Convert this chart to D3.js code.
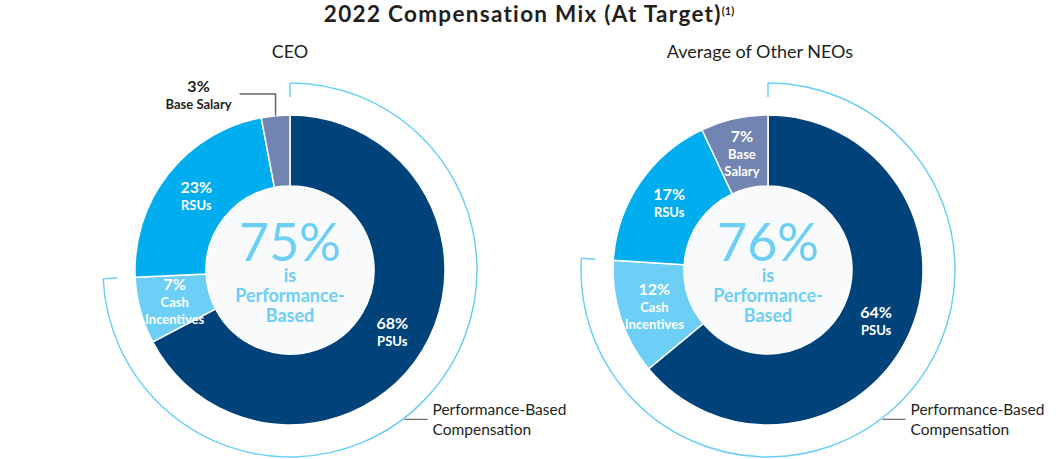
<!DOCTYPE html>
<html>
<head>
<meta charset="utf-8">
<script src="https://cdn.jsdelivr.net/npm/d3@7"></script>
<style>
  body { margin: 0; background: #fff; }
  svg text { font-family: Lato, "Open Sans", sans-serif; }
</style>
</head>
<body>
<div id="chart"></div>
<script>
// data
const groups = ["CEO", "Average of Other NEOs"];
const components = ["PSUs", "Cash Incentives", "RSUs", "Base Salary"];
const labelLines = [["PSUs"], ["Cash", "Incentives"], ["RSUs"], ["Base", "Salary"]];
const ceoValues = [68, 7, 23, 3];
const neoValues = [64, 12, 17, 7];
const perfBased = [75, 76];
const colors = ["#00437b", "#6dcff6", "#00adee", "#7284b1"];

const width = 1058, height = 459;
const outerR = 155, innerR = 84, bracketR = 187;
const accent = "#6dcff6";

const svg = d3.select("#chart").append("svg")
    .attr("width", width)
    .attr("height", height);

// title
const title = svg.append("text")
    .attr("x", width / 2)
    .attr("y", 22)
    .attr("text-anchor", "middle")
    .attr("font-size", "22.5px")
    .attr("font-weight", "bold")
    .attr("letter-spacing", "1.3px")
    .attr("fill", "#231f20");
title.append("tspan").text("2022 Compensation Mix (At Target)");
title.append("tspan").attr("font-size", "11px").attr("letter-spacing", "0px").attr("dy", -7).text("(1)");

const x = d3.scalePoint().domain(groups).range([290, 768]);
const color = d3.scaleOrdinal().domain(components).range(colors);

const pie = d3.pie().sort(null).value(d => d.value);
const arc = d3.arc().innerRadius(innerR).outerRadius(outerR);

[ceoValues, neoValues].forEach((values, gi) => {
    const data = components.map((c, i) => ({ name: c, value: values[i], lines: labelLines[i] }));
    const cx = x(groups[gi]), cy = 270;
    const g = svg.append("g").attr("transform", `translate(${cx},${cy})`);

    // subtitle
    svg.append("text")
        .attr("x", cx - gi * 8)
        .attr("y", 58)
        .attr("text-anchor", "middle")
        .attr("font-size", "18px")
        .attr("fill", "#231f20")
        .text(groups[gi]);

    const arcs = pie(data);

    g.append("circle").attr("r", innerR).attr("fill", "#f8fafb");

    g.selectAll(".slice")
        .data(arcs)
        .enter()
        .append("path")
        .attr("class", "slice")
        .attr("d", arc)
        .attr("fill", d => color(d.data.name))
        .attr("stroke", "#fff")
        .attr("stroke-width", 1.5);

    // inside labels
    arcs.filter(d => d.data.value >= 5).forEach(d => {
        const [lx, ly] = arc.centroid(d);
        const lines = d.data.lines;
        const t = g.append("text")
            .attr("x", lx)
            .attr("y", ly - (lines.length - 1) * 8.5 - 3)
            .attr("text-anchor", "middle")
            .attr("fill", "#fff")
            .attr("font-weight", "bold");
        t.append("tspan").attr("x", lx).attr("font-size", "16px").text(d.data.value + "%");
        lines.forEach(l => {
            t.append("tspan").attr("x", lx).attr("dy", 17).attr("font-size", "13px").text(l);
        });
    });

    // outside labels for small slices
    arcs.filter(d => d.data.value < 5).forEach(d => {
        const mid = (d.startAngle + d.endAngle) / 2;
        const px = Math.sin(mid) * outerR, py = -Math.cos(mid) * outerR;
        const topY = -176;
        g.append("path")
            .attr("d", `M${px},${py}V${topY}H${px - 36}`)
            .attr("fill", "none")
            .attr("stroke", "#666")
            .attr("stroke-width", 1.5);
        const t = g.append("text")
            .attr("x", px - 77)
            .attr("y", topY - 2)
            .attr("text-anchor", "middle")
            .attr("fill", "#231f20")
            .attr("font-weight", "bold");
        t.append("tspan").attr("x", px - 77).attr("font-size", "16px").text(d.data.value + "%");
        t.append("tspan").attr("x", px - 77).attr("dy", 17).attr("font-size", "13px").text(d.data.name);
    });

    // performance-based bracket
    const endAngle = arcs[1].endAngle;
    const bracket = d3.arc().innerRadius(bracketR).outerRadius(bracketR)
        .startAngle(0).endAngle(endAngle);
    g.append("path")
        .attr("d", bracket())
        .attr("fill", "none")
        .attr("stroke", accent)
        .attr("stroke-width", 1.5);
    [0, endAngle].forEach(a => {
        g.append("line")
            .attr("x1", Math.sin(a) * bracketR).attr("y1", -Math.cos(a) * bracketR)
            .attr("x2", Math.sin(a) * (bracketR - 14)).attr("y2", -Math.cos(a) * (bracketR - 14))
            .attr("stroke", accent)
            .attr("stroke-width", 1.5);
    });

    // bracket callout
    const ca = 143 * Math.PI / 180;
    const bx = Math.sin(ca) * bracketR, by = -Math.cos(ca) * bracketR;
    g.append("line")
        .attr("x1", bx + 2).attr("y1", by)
        .attr("x2", bx + 25).attr("y2", by)
        .attr("stroke", "#666")
        .attr("stroke-width", 1.2);
    const ct = g.append("text")
        .attr("x", bx + 30)
        .attr("y", by - 4)
        .attr("font-size", "15.5px")
        .attr("fill", "#231f20");
    ct.append("tspan").attr("x", bx + 30).text("Performance-Based");
    ct.append("tspan").attr("x", bx + 30).attr("dy", 20).text("Compensation");

    // center
    const c = g.append("text")
        .attr("y", -9)
        .attr("text-anchor", "middle")
        .attr("font-weight", "bold")
        .attr("fill", accent);
    c.append("tspan")
        .attr("x", 0)
        .attr("font-size", "52px")
        .attr("font-weight", 400)
        .text(perfBased[gi] + "%");
    ["is", "Performance-", "Based"].forEach((l, i) => {
        c.append("tspan").attr("x", 0).attr("dy", i == 0 ? 21 : 20)
            .attr("font-size", "18px").text(l);
    });
});
</script>
</body>
</html>
